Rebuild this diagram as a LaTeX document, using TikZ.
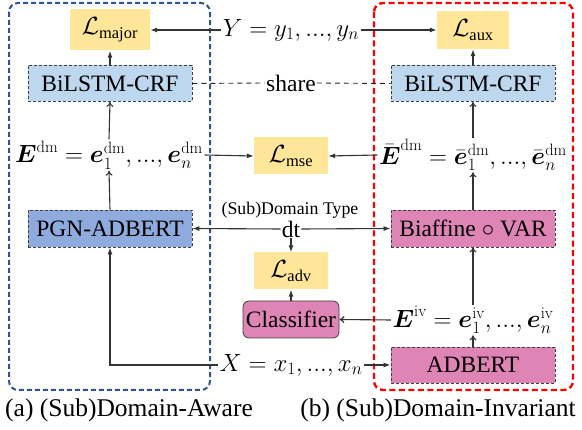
\documentclass[tikz,border=0pt]{standalone}
\usepackage{amsmath}
\usepackage{fontspec}
\newfontfamily\tms{Liberation Serif}
\usetikzlibrary{arrows.meta}
\definecolor{lyellow}{HTML}{FFE699}
\definecolor{lblue}{HTML}{BDD7EE}
\definecolor{mblue}{HTML}{8FAADC}
\definecolor{lpink}{HTML}{DF85B6}
\definecolor{frameblue}{HTML}{2F5597}
\definecolor{edgegray}{HTML}{404040}
\tikzset{
  loss/.style={fill=lyellow, draw=none, minimum width=74pt, minimum height=37pt, inner sep=0pt},
  modbox/.style={draw=edgegray, dash pattern=on 3pt off 2pt, line width=0.8pt, minimum width=164pt, minimum height=36pt, inner sep=0pt},
  expr/.style={inner sep=1.5pt},
  arr/.style={-{Latex[length=7pt,width=5pt]}, line width=1.1pt, draw=black!80},
  oarr/.style={-{To[length=5pt,width=7pt]}, line width=1.1pt, draw=black!80},
  big/.style={font=\tms\fontsize{23.5}{28}\selectfont},
}
\begin{document}
\begin{tikzpicture}[x=1pt,y=-1pt]
\useasboundingbox (0,0) rectangle (582,430);
% frames
\draw[frameblue, line width=2pt, dash pattern=on 5pt off 3pt, rounded corners=9pt] (9,3) rectangle (210,390);
\draw[red, line width=2.4pt, dash pattern=on 6pt off 3.5pt, rounded corners=9pt] (374,3) rectangle (573,390);

\begin{scope}[big]
\node[loss, minimum width=80pt, minimum height=41pt] (Lmaj) at (110,30) {$\mathcal{L}_{\text{major}}$};
\node[expr] (Y) at (291,30) {$Y=y_1,...,y_n$};
\node[loss, minimum width=72pt, minimum height=38pt] (Laux) at (473,30) {$\mathcal{L}_{\text{aux}}$};

\node[modbox, fill=lblue] (bil1) at (110,83.5) {BiLSTM-CRF};
\node[modbox, fill=lblue] (bil2) at (473,83.5) {BiLSTM-CRF};
\node[inner sep=1pt] (share) at (291,83) {share};

\node[expr] (Edm) at (109,155) {$\boldsymbol{E}^{\mathrm{dm}}=\boldsymbol{e}_1^{\mathrm{dm}},...,\boldsymbol{e}_n^{\mathrm{dm}}$};
\node[loss] (Lmse) at (291,156) {$\mathcal{L}_{\text{mse}}$};
\node[expr] (Ebar) at (473,155) {$\bar{\boldsymbol{E}}^{\mathrm{dm}}=\bar{\boldsymbol{e}}_1^{\mathrm{dm}},...,\bar{\boldsymbol{e}}_n^{\mathrm{dm}}$};

\node[modbox, fill=mblue, minimum height=37pt] (pgn) at (110,228.5) {PGN-ADBERT};
\node[inner sep=1pt] (dt) at (291,229) {dt};
\node[modbox, fill=lpink, minimum height=37pt] (bia) at (473,228.5) {Biaffine $\circ$ VAR};

\node[loss] (Ladv) at (291,271) {$\mathcal{L}_{\text{adv}}$};
\node[draw=edgegray, line width=0.8pt, fill=lpink, rounded corners=6pt, minimum width=96pt, minimum height=37pt, inner sep=0pt] (cls) at (291,319.5) {Classifier};
\node[expr] (Eiv) at (473,320) {$\boldsymbol{E}^{\mathrm{iv}}=\boldsymbol{e}_1^{\mathrm{iv}},...,\boldsymbol{e}_n^{\mathrm{iv}}$};

\node[modbox, fill=lpink] (adb) at (473,365) {ADBERT};
\node[expr] (X) at (291,365) {$X=x_1,...,x_n$};
\end{scope}

\node[font=\tms\fontsize{17.8}{20}\selectfont, inner sep=0pt] (dtl) at (290,210) {(Sub)Domain Type};

\node[font=\tms\fontsize{25.5}{30}\selectfont, inner sep=0pt] (capA) at (129,410) {(a) (Sub)Domain-Aware};
\node[font=\tms\fontsize{25.5}{30}\selectfont, inner sep=0pt] (capB) at (438,410) {(b) (Sub)Domain-Invariant};

% connectors
\draw[arr] (Y.west) -- (Lmaj.east);
\draw[arr] (Y.east) -- (Laux.west);
\draw[arr] (bil1.north) -- (Lmaj.south);
\draw[arr] (bil2.north) -- (Laux.south);
\draw[black!85, line width=0.9pt, dash pattern=on 5pt off 4pt] (bil1.east) -- (share.west);
\draw[black!85, line width=0.9pt, dash pattern=on 5pt off 4pt] (share.east) -- (bil2.west);
\draw[oarr] (Edm.north) -- (bil1.south);
\draw[oarr] (Ebar.north) -- (bil2.south);
\draw[oarr] (pgn.north) -- (Edm.south);
\draw[oarr] (bia.north) -- (Ebar.south);
\draw[arr] (Edm.east) -- (Lmse.west);
\draw[arr] (Ebar.west) -- (Lmse.east);
\draw[arr] (dt.west) -- (pgn.east);
\draw[arr] (dt.east) -- (bia.west);
\draw[arr] (dt.south) -- (Ladv.north);
\draw[arr] (cls.north) -- (Ladv.south);
\draw[oarr] (Eiv.west) -- (cls.east);
\draw[oarr] (Eiv.north) -- (bia.south);
\draw[oarr] (adb.north) -- (Eiv.south);
\draw[arr] (X.east) -- (adb.west);
\draw[arr] (X.west) -| (pgn.south);
\end{tikzpicture}
\end{document}
